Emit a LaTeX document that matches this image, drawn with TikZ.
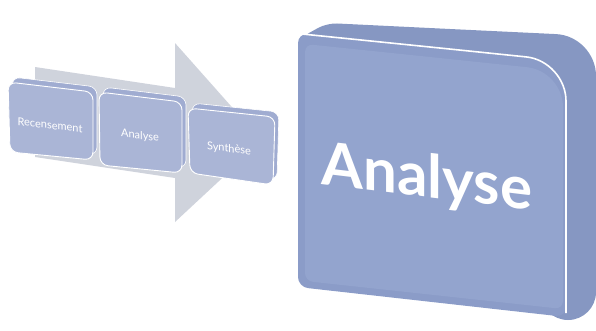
\documentclass[tikz,border=0pt]{standalone}
\usepackage{fontspec}
\setmainfont{Lato}
\begin{document}
\begin{tikzpicture}[x=1pt,y=-1pt]
\definecolor{arrowgray}{RGB}{207,211,220}
\definecolor{smallfront}{RGB}{170,181,214}
\definecolor{smallback}{RGB}{160,172,209}
\definecolor{bigfront}{RGB}{147,164,206}
\definecolor{bigback}{RGB}{134,151,194}
\definecolor{bigbevel}{RGB}{139,156,200}
\tikzset{
 smallface/.style={fill=smallfront, draw=white, line width=0.9pt, rounded corners=8pt},
 smallslab/.style={fill=smallback, draw=white, line width=0.6pt, rounded corners=8pt},
 smalllabel/.style={text=white, font=\fontsize{11}{13}\selectfont, yslant=-0.12, inner sep=0pt},
 biglabel/.style={text=white, font=\fontsize{60}{70}\selectfont\bfseries, yslant=-0.12, inner sep=0pt},
}
\useasboundingbox (0,0) rectangle (596,330);
% process arrow
\fill[arrowgray] (35,67) -- (175,88) -- (175,43) -- (262,141) -- (175,222) -- (175,178) -- (35,157) -- cycle;
% box 1
\path[smallslab, shift={(4,-5)}] (8,82) -- (93,92) -- (93,160) -- (10,152) -- cycle;
\path[smallface] (8,82) -- (93,92) -- (93,160) -- (10,152) -- cycle;
\node[smalllabel] (rec) at (50,125) {Recensement};
% box 2
\path[smallslab, shift={(4,-5)}] (99,92) -- (182,102) -- (182,173) -- (100,165) -- cycle;
\path[smallface] (99,92) -- (182,102) -- (182,173) -- (100,165) -- cycle;
\node[smalllabel] (ana) at (140,136) {Analyse};
% box 3
\path[smallslab, shift={(4,-5)}] (188,108) -- (275,117) -- (273,185) -- (190,173) -- cycle;
\path[smallface] (188,108) -- (275,117) -- (273,185) -- (190,173) -- cycle;
\node[smalllabel] (syn) at (229,149) {Synthèse};
% big box back slab
\fill[bigback] (300,150) [rounded corners=10pt] -- (300,38) -- (327,23) -- (450,29) [rounded corners=40pt] -- (596,36) -- (596,200) [rounded corners=28pt] -- (596,320) -- (540,320) [sharp corners] -- (540,150) -- cycle;
% big box front face
\fill[bigbevel] (298,150) [rounded corners=10pt] -- (298,33) -- (430,47) [rounded corners=40pt] -- (566,61) -- (566,200) [rounded corners=10pt] -- (566,317) -- (298,287) -- cycle;
\fill[bigfront] (305,150) [rounded corners=8pt] -- (305,44) -- (430,57) [rounded corners=36pt] -- (563,71) -- (563,200) [rounded corners=8pt] -- (563,309) -- (305,281) -- cycle;
\draw[white, line width=1.6pt] (302,34) [rounded corners=40pt] -- (430,47) -- (566,61) -- (566,200) [rounded corners=10pt] -- (566,313);
\node[biglabel] (big) at (427,180) {Analyse};
\end{tikzpicture}
\end{document}
